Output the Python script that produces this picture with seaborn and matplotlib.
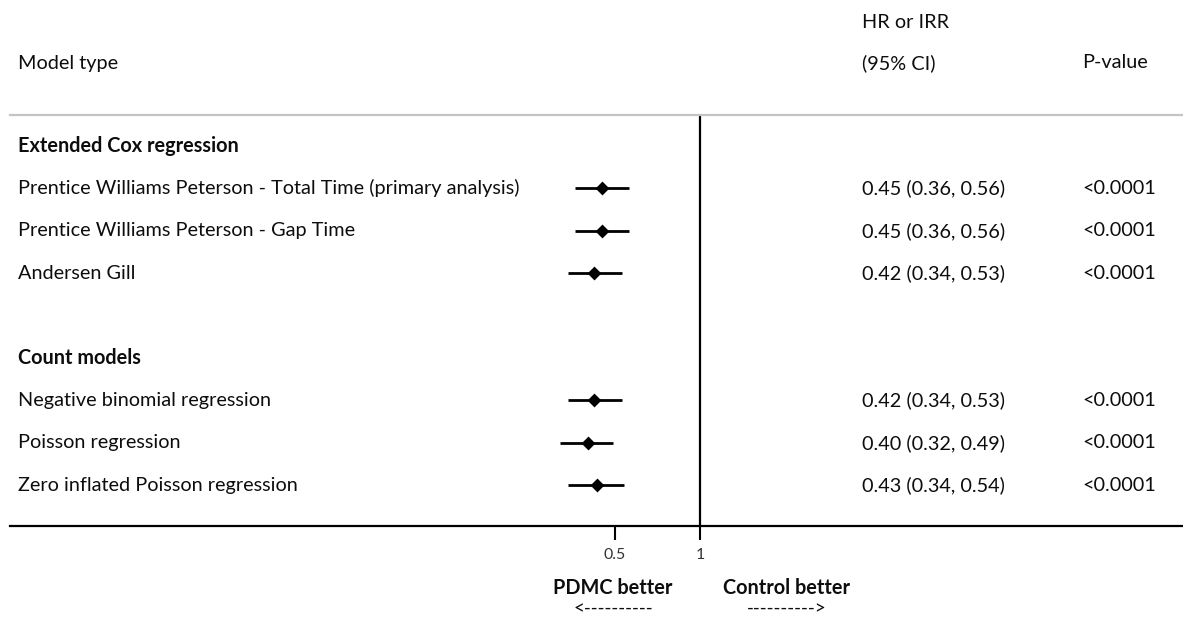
import numpy as np
import pandas as pd
import matplotlib
matplotlib.use("Agg")
import matplotlib.pyplot as plt
import seaborn as sns

# ---------------- data ----------------
section_titles = ["Extended Cox regression", "Count models"]
models = [
    "Prentice Williams Peterson - Total Time (primary analysis)",
    "Prentice Williams Peterson - Gap Time",
    "Andersen Gill",
    "Negative binomial regression",
    "Poisson regression",
    "Zero inflated Poisson regression",
]
model_section = [0, 0, 0, 1, 1, 1]
estimate = [0.45, 0.45, 0.42, 0.42, 0.40, 0.43]
ci_low = [0.36, 0.36, 0.34, 0.34, 0.32, 0.34]
ci_high = [0.56, 0.56, 0.53, 0.53, 0.49, 0.54]
p_values = ["<0.0001"] * 6
x_ticks = [0.5, 1]
x_tick_labels = ["0.5", "1"]
header_model = "Model type"
header_est = ["HR or IRR", "(95% CI)"]
header_p = "P-value"
favours = ["PDMC better", "Control better"]
arrows = ["<----------", "---------->"]

# ---------------- style ----------------
sns.set_style("white")
plt.rcParams["font.family"] = ["Lato", "DejaVu Sans"]

W, H, DPI = 1183, 619, 100
fig = plt.figure(figsize=(W / DPI, H / DPI), dpi=DPI)
fig.patch.set_facecolor("white")

# overlay axes in pixel coordinates for the text table
bg = fig.add_axes([0, 0, 1, 1])
bg.set_xlim(0, W)
bg.set_ylim(H, 0)
bg.axis("off")

# ---- row layout (slots) ----
slot_labels, slot_bold, model_slots = [], [], []
for s, title in enumerate(section_titles):
    if s > 0:
        slot_labels.append("")
        slot_bold.append(False)
    slot_labels.append(title)
    slot_bold.append(True)
    for i, m in enumerate(models):
        if model_section[i] == s:
            model_slots.append(len(slot_labels))
            slot_labels.append(m)
            slot_bold.append(False)

ROW0, ROWH = 146.0, 42.4
def slot_px(k):
    return ROW0 + ROWH * k

# fit font size to reference width of longest label
renderer = fig.canvas.get_renderer()
probe = bg.text(0, 0, models[0], fontsize=12)
wpx = probe.get_window_extent(renderer).width
probe.remove()
FS = 12 * 500.0 / wpx
FS_TICK = FS * 0.8

TXT = "#0d0d0d"
LEFT_X, EST_X, P_X = 18, 862, 1082

# header
bg.text(LEFT_X, 63, header_model, fontsize=FS, va="center", ha="left", color=TXT)
bg.text(EST_X, 22, header_est[0], fontsize=FS, va="center", ha="left", color=TXT)
bg.text(EST_X, 63, header_est[1], fontsize=FS, va="center", ha="left", color=TXT)
bg.text(P_X, 63, header_p, fontsize=FS, va="center", ha="left", color=TXT)

for k, (lab, b) in enumerate(zip(slot_labels, slot_bold)):
    if lab:
        bg.text(LEFT_X, slot_px(k), lab, fontsize=FS, va="center", ha="left",
                fontweight="bold" if b else "normal", color=TXT)

for i, k in enumerate(model_slots):
    est_txt = f"{estimate[i]:.2f} ({ci_low[i]:.2f}, {ci_high[i]:.2f})"
    bg.text(EST_X, slot_px(k), est_txt, fontsize=FS, va="center", ha="left", color=TXT)
    bg.text(P_X, slot_px(k), p_values[i], fontsize=FS, va="center", ha="left", color=TXT)

# ---------------- forest axes ----------------
X0_PX, TOP_PX, BOT_PX = 10, 115, 526
REF_PX, K = 700.0, 122.6  # pixel of value 1, pixels per ln unit
ax = fig.add_axes([X0_PX / W, 1 - BOT_PX / H, (W - X0_PX) / W, (BOT_PX - TOP_PX) / H])
ax.patch.set_alpha(0)
ax.set_xscale("log")
ax.set_xlim(np.exp((X0_PX - REF_PX) / K), np.exp((W - REF_PX) / K))
ax.set_ylim((BOT_PX - ROW0) / ROWH, (TOP_PX - ROW0) / ROWH)

df = pd.DataFrame({"model": models, "est": estimate, "lo": ci_low, "hi": ci_high,
                   "slot": model_slots})
ax.hlines(df["slot"], df["lo"], df["hi"], color="black", lw=2.0, zorder=2)
sns.scatterplot(data=df, x="est", y="slot", marker="D", s=50, color="black",
                linewidth=0, ax=ax, zorder=3, legend=False)
ax.axvline(1, color="black", lw=1.6, zorder=1)

ax.set_xlabel("")
ax.set_ylabel("")
ax.set_yticks([])
ax.xaxis.set_minor_locator(matplotlib.ticker.NullLocator())
ax.set_xticks(x_ticks)
ax.set_xticklabels(x_tick_labels)
ax.tick_params(axis="x", which="major", length=10, width=1.5, pad=6,
               labelsize=FS_TICK, labelcolor="#333333", color="black", bottom=True)
for side in ["left", "right"]:
    ax.spines[side].set_visible(False)
ax.spines["bottom"].set_color("black")
ax.spines["bottom"].set_linewidth(1.6)
ax.spines["top"].set_color("#c4c4c4")
ax.spines["top"].set_linewidth(1.6)

# favours labels
for xv_px, lab, arr in zip([613, 787], favours, arrows):
    bg.text(xv_px, 588, lab, fontsize=FS, fontweight="bold", ha="center", va="center", color=TXT)
    bg.text(xv_px, 609, arr, fontsize=FS * 0.95, ha="center", va="center", color=TXT)

fig.savefig("out.png", dpi=DPI, facecolor="white")
